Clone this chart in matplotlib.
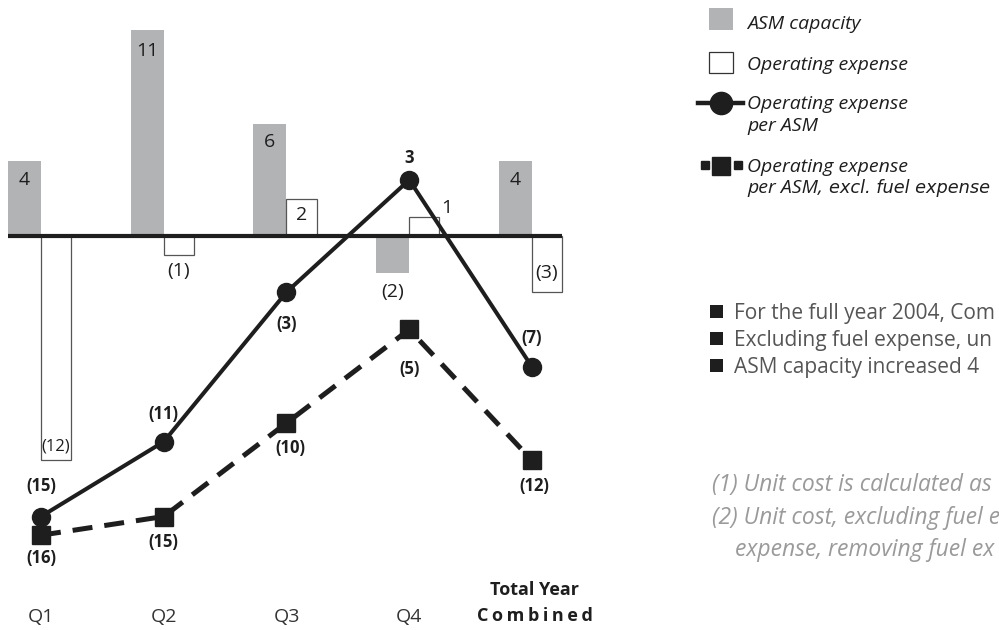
import matplotlib.pyplot as plt
from matplotlib.patches import Rectangle
from matplotlib.lines import Line2D

plt.rcParams['font.family'] = ['Open Sans', 'DejaVu Sans']

# percent change vs prior year, by quarter
quarters = ['Q1', 'Q2', 'Q3', 'Q4']
total_label = ['Total Year', 'Combined']
asm_capacity = [4, 11, 6, -2, 4]
operating_expense = [-12, -1, 2, 1, -3]
cost_per_asm = [-15, -11, -3, 3, -7]
cost_per_asm_ex_fuel = [-16, -15, -10, -5, -12]

legend_labels = ['ASM capacity', 'Operating expense',
                 'Operating expense', 'per ASM',
                 'Operating expense', 'per ASM,', 'excl. fuel expense']
bullets = ['For the full year 2004, Com',
           'Excluding fuel expense, un',
           'ASM capacity increased 4']
footnotes = ['(1) Unit cost is calculated as',
             '(2) Unit cost, excluding fuel e',
             'expense, removing fuel ex']

GRAY = '#b2b3b5'
INK = '#1e1e1e'


def fmt(v):
    return f'({abs(v)})' if v < 0 else str(v)


W, H = 999, 630
fig = plt.figure(figsize=(W / 100, H / 100), dpi=100)

# chart area: 122.75 px per category, 18.7 px per percentage point
step, unit, zero_px, x0_px, right_px = 122.75, 18.7, 236, 41, 590
ax = fig.add_axes([0, 0, right_px / W, 1])
ax.set_xlim(-x0_px / step, (right_px - x0_px) / step)
ax.set_ylim(-(H - zero_px) / unit, zero_px / unit)
ax.axis('off')

x = list(range(len(asm_capacity)))
gw, ww = 0.27, 0.245
ax.bar([i - gw / 2 for i in x], asm_capacity, width=gw, color=GRAY, zorder=1)
ax.bar([i + ww / 2 for i in x], operating_expense, width=ww, color='white',
       edgecolor='#555555', linewidth=0.9, zorder=1)
ax.hlines(0, x[0] - gw, x[-1] + ww, color=INK, linewidth=3, zorder=2)

# bar value labels (offsets in pixels)
gray_off = [-19, -21, -18, -19, -19]
for i, v in enumerate(asm_capacity):
    ax.annotate(fmt(v), (i - gw / 2, v), xytext=(0, gray_off[i]),
                textcoords='offset pixels', ha='center', va='center',
                fontsize=14, color=INK)

white_off = [(0, 14, 12), (0, -16, 14), (0, -16, 14), (22, 9, 14), (0, 19, 14)]
for i, v in enumerate(operating_expense):
    dx, dy, fs = white_off[i]
    ax.annotate(fmt(v), (i + ww / 2, v), xytext=(dx, dy),
                textcoords='offset pixels', ha='center', va='center',
                fontsize=fs, color=INK)

ax.plot(x, cost_per_asm, color=INK, linewidth=2.9, marker='o',
        markersize=13, zorder=4)
ax.plot(x, cost_per_asm_ex_fuel, color=INK, linewidth=3.6,
        linestyle=(0, (4, 2.4)), marker='s', markersize=13.5, zorder=4)

solid_off = [30, 28, -32, 22, 29]
for i, v in enumerate(cost_per_asm):
    ax.annotate(fmt(v), (i, v), xytext=(0, solid_off[i]),
                textcoords='offset pixels', ha='center', va='center',
                fontsize=12, fontweight='bold', color=INK)

dash_off = [(0, -23), (0, -25), (4, -25), (0, -40), (2, -26)]
for i, v in enumerate(cost_per_asm_ex_fuel):
    dx, dy = dash_off[i]
    ax.annotate(fmt(v), (i, v), xytext=(dx, dy),
                textcoords='offset pixels', ha='center', va='center',
                fontsize=12, fontweight='bold', color=INK)

# category labels
xt = ax.get_xaxis_transform()
for i, q in enumerate(quarters):
    ax.text(i, 1 - 617 / H, q, transform=xt, ha='center', va='center',
            fontsize=14, color='#333333')
ax.text(4.02, 1 - 590 / H, total_label[0], transform=xt, ha='center',
        va='center', fontsize=13, fontweight='bold', color=INK)
ax.text(4.02, 1 - 616 / H, '\u2009'.join(total_label[1]), transform=xt,
        ha='center', va='center', fontsize=13, fontweight='bold', color=INK)

# legend and notes, drawn in pixel coordinates
lg = fig.add_axes([0, 0, 1, 1], zorder=-1)
lg.set_xlim(0, W)
lg.set_ylim(H, 0)
lg.axis('off')

lg.add_patch(Rectangle((709, 8), 24, 22, facecolor=GRAY, edgecolor='none'))
lg.add_patch(Rectangle((709, 52), 24, 21, facecolor='white',
                       edgecolor='#333333', linewidth=0.9))
lg.add_line(Line2D([698, 743], [103, 103], color=INK, linewidth=3.2))
lg.add_line(Line2D([721], [103], color=INK, marker='o', markersize=16))
lg.add_line(Line2D([704.5, 738], [165, 165], color=INK, linestyle='none',
                   marker='s', markersize=5.5))
lg.add_line(Line2D([721], [166], color=INK, marker='s', markersize=13))

tx = 747
lkw = dict(fontsize=14, style='italic', color=INK, va='baseline')
for s, by in zip(legend_labels[:6], [29, 70, 109, 131, 172, 193]):
    lg.text(tx, by, s, **lkw)
lg.text(829, 193, legend_labels[6], fontsize=12.8, style='italic',
        family='DejaVu Sans', color=INK, va='baseline')

for s, by in zip(bullets, [319, 346, 373]):
    lg.add_patch(Rectangle((710, by - 14), 13, 13, facecolor=INK,
                           edgecolor='none'))
    lg.text(734, by, s, fontsize=15, color='#555555', va='baseline')

for s, bx, by in zip(footnotes, [712, 712, 735], [491, 524, 556]):
    lg.text(bx, by, s, fontsize=16.5, style='italic', color='#9a9a9a',
            va='baseline')

fig.savefig('out.png', dpi=100)
